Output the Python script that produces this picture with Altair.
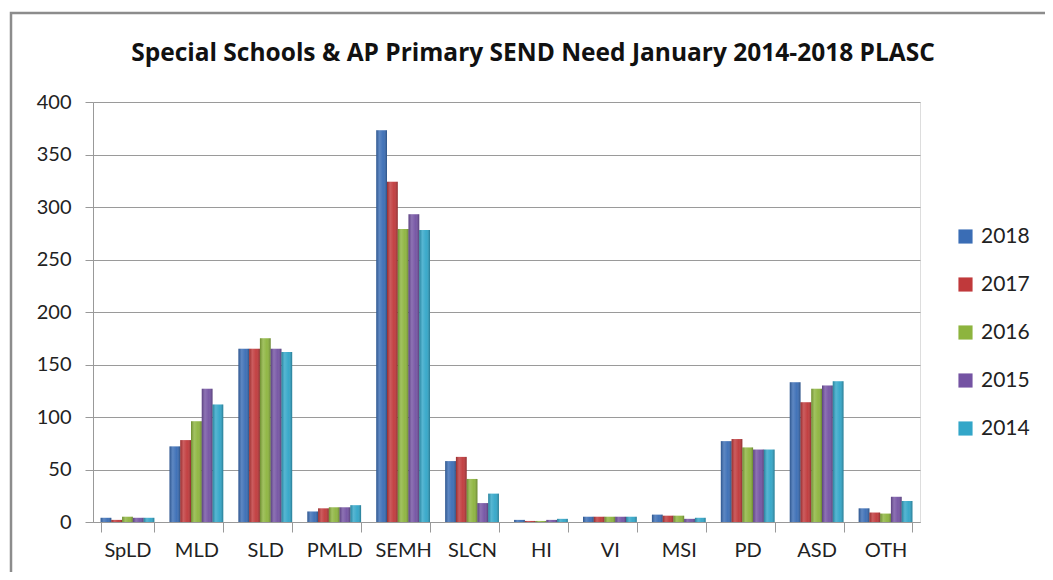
import altair as alt
import pandas as pd

title_text = "Special Schools & AP Primary SEND Need January 2014-2018 PLASC"
categories = ["SpLD", "MLD", "SLD", "PMLD", "SEMH", "SLCN", "HI", "VI", "MSI", "PD", "ASD", "OTH"]
years = ["2018", "2017", "2016", "2015", "2014"]
v2018 = [4, 72, 165, 10, 373, 58, 2, 5, 7, 77, 133, 13]
v2017 = [2, 78, 165, 13, 324, 62, 1, 5, 6, 79, 114, 9]
v2016 = [5, 96, 175, 14, 279, 41, 1, 5, 6, 71, 127, 8]
v2015 = [4, 127, 165, 14, 293, 18, 2, 5, 3, 69, 130, 24]
v2014 = [4, 112, 162, 16, 278, 27, 3, 5, 4, 69, 134, 20]
colors = ["#3A6DB5", "#C0393B", "#8DB43E", "#7453A3", "#32A6C8"]

series = {"2018": v2018, "2017": v2017, "2016": v2016, "2015": v2015, "2014": v2014}
rows = []
for y in years:
    for c, v in zip(categories, series[y]):
        rows.append({"Need": c, "Year": y, "Pupils": v})
df = pd.DataFrame(rows)

FONT = "Lato"

x_enc = alt.X("Need:N", sort=categories, title=None,
              scale=alt.Scale(paddingInner=0.22, paddingOuter=0.11),
              axis=alt.Axis(labelAngle=0, labelFontSize=20, labelColor="#222",
                            labelPadding=8, tickBand="extent", tickSize=10,
                            tickColor="#999", domainColor="#999", grid=False,
                            labelFont=FONT))
xo_enc = alt.XOffset("Year:N", sort=years, scale=alt.Scale(paddingInner=0, paddingOuter=0))
y_enc = alt.Y("Pupils:Q", title=None,
              scale=alt.Scale(domain=[0, 400], nice=False),
              axis=alt.Axis(values=[0, 50, 100, 150, 200, 250, 300, 350, 400],
                            labelFontSize=20, labelColor="#222", labelPadding=14,
                            tickSize=8, tickColor="#999", domainColor="#999",
                            gridColor="#9A9A9A", gridWidth=1, labelFont=FONT))

bars = alt.Chart(df).mark_bar(stroke=None).encode(
    x=x_enc, xOffset=xo_enc, y=y_enc,
    color=alt.Color("Year:N", sort=years,
                    scale=alt.Scale(domain=years, range=colors),
                    legend=alt.Legend(title=None, orient="none", legendX=862, legendY=124,
                                      symbolType="square", symbolSize=200,
                                      symbolStrokeWidth=0, labelFontSize=21,
                                      labelFont=FONT, labelColor="#222",
                                      rowPadding=26, labelOffset=5)),
)

shade = alt.Chart(df).mark_bar(
    stroke=None,
    fill=alt.Gradient(
        gradient="linear", x1=0, x2=1, y1=0, y2=0,
        stops=[alt.GradientStop(offset=0, color="rgba(0,0,0,0.22)"),
               alt.GradientStop(offset=0.3, color="rgba(255,255,255,0.18)"),
               alt.GradientStop(offset=0.65, color="rgba(255,255,255,0.04)"),
               alt.GradientStop(offset=1, color="rgba(0,0,0,0.28)")]),
).encode(x=x_enc, xOffset=xo_enc, y=y_enc)

border = alt.Chart(pd.DataFrame({"k": [0]})).mark_rect(
    fill=None, stroke="#8C8C8C", strokeWidth=2.5, clip=False
).encode(
    x=alt.value(-82), x2=alt.value(1100), y=alt.value(-89), y2=alt.value(700)
)

title = alt.Chart(pd.DataFrame({"t": [title_text]})).mark_text(
    font="Open Sans", fontSize=24.5, fontWeight="bold", color="#111",
    align="center", baseline="alphabetic", clip=False
).encode(text="t:N", x=alt.value(440), y=alt.value(-41))

chart = alt.layer(bars, shade, border, title).properties(
    width=827, height=420,
    padding={"left": 85, "top": 94, "right": 125, "bottom": 50},
    autosize=alt.AutoSizeParams(type="none"),
).configure_view(stroke=None).configure(background="white")

chart.save("out.html", embed_options={"renderer": "svg", "actions": False})
